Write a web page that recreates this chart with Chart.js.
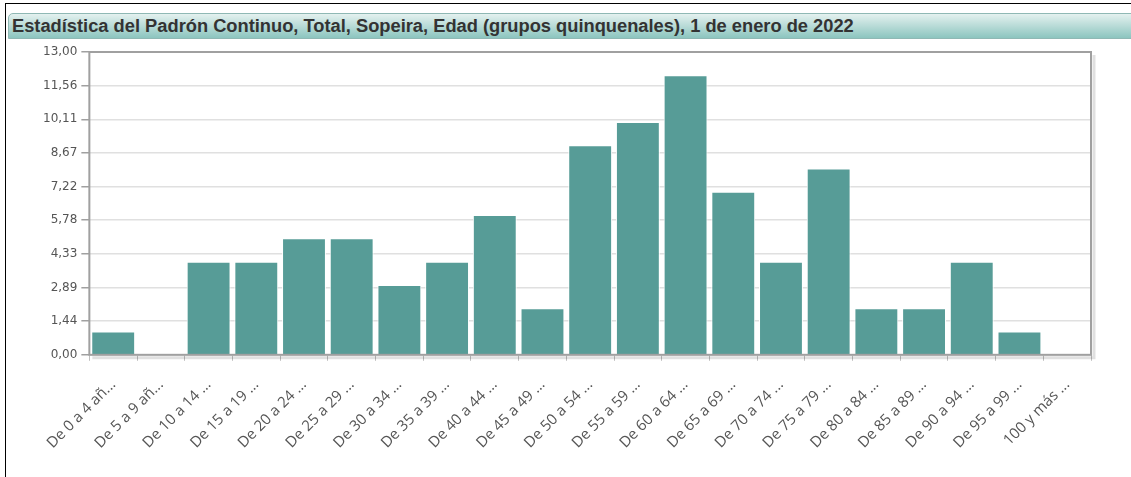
<!DOCTYPE html>
<html lang="es">
<head>
<meta charset="UTF-8">
<title>Padrón Continuo - Sopeira</title>
<script src="https://cdn.jsdelivr.net/npm/chart.js"></script>
<style>
    body { margin: 0; background: #fff; width: 1131px; height: 477px; overflow: hidden; }
    .marco { position: absolute; left: 5px; top: 3px; width: 1130px; height: 480px;
             border-top: 1px solid #000; border-left: 1px solid #000; }
    .titulo { position: absolute; left: 8px; top: 13px; width: 1125px; height: 24px;
              border: 1px solid #8fb8b4; border-radius: 5px 0 0 0;
              background: linear-gradient(#e4f1ef, #8cc5bf);
              font: bold 18.3px "Liberation Sans", Arial, sans-serif; color: #333;
              line-height: 24px; padding-left: 3px; box-sizing: content-box; }
    .grafico { position: absolute; left: 8px; top: 40px; width: 1123px; height: 437px; }
</style>
</head>
<body>
    <div class="marco"></div>
    <div class="titulo">Estadística del Padrón Continuo, Total, Sopeira, Edad (grupos quinquenales), 1 de enero de 2022</div>
    <div class="grafico"><canvas id="grafico"></canvas></div>

<script>
    // grupos de edad (como se ven, recortados)
    var categorias = [
        'De 0 a 4 añ...', 'De 5 a 9 añ...', 'De 10 a 14 ...', 'De 15 a 19 ...',
        'De 20 a 24 ...', 'De 25 a 29 ...', 'De 30 a 34 ...', 'De 35 a 39 ...',
        'De 40 a 44 ...', 'De 45 a 49 ...', 'De 50 a 54 ...', 'De 55 a 59 ...',
        'De 60 a 64 ...', 'De 65 a 69 ...', 'De 70 a 74 ...', 'De 75 a 79 ...',
        'De 80 a 84 ...', 'De 85 a 89 ...', 'De 90 a 94 ...', 'De 95 a 99 ...',
        '100 y más ...'
    ];
    var personas = [1, 0, 4, 4, 5, 5, 3, 4, 6, 2, 9, 10, 12, 7, 4, 8, 2, 2, 4, 1, 0];
    var marcasY = [0, 1.444, 2.889, 4.333, 5.778, 7.222, 8.667, 10.111, 11.556, 13];

    var marcoPlugin = {
        id: 'marco',
        afterDraw: function (chart) {
            var a = chart.chartArea, ctx = chart.ctx;
            ctx.save();
            ctx.strokeStyle = 'rgba(0,0,0,0.12)';
            ctx.lineWidth = 3;
            ctx.beginPath();
            ctx.moveTo(a.right + 3, a.top + 3);
            ctx.lineTo(a.right + 3, a.bottom + 3);
            ctx.lineTo(a.left + 3, a.bottom + 3);
            ctx.stroke();
            ctx.strokeStyle = '#a0a0a0';
            ctx.lineWidth = 2;
            ctx.strokeRect(a.left, a.top, a.right - a.left, a.bottom - a.top);
            ctx.restore();
        }
    };

    new Chart(document.getElementById('grafico'), {
        type: 'bar',
        data: {
            labels: categorias,
            datasets: [{
                data: personas,
                backgroundColor: '#579c97',
                borderColor: '#ffffff',
                borderWidth: 1,
                categoryPercentage: 0.92,
                barPercentage: 1
            }]
        },
        options: {
            responsive: true,
            maintainAspectRatio: false,
            animation: false,
            layout: { padding: { left: 31, right: 40, top: 12, bottom: 10 } },
            plugins: { legend: { display: false }, tooltip: { enabled: false } },
            scales: {
                x: {
                    grid: { display: true, drawOnChartArea: false, offset: true, tickLength: 6, tickColor: '#c0c0c0' },
                    border: { display: false },
                    ticks: {
                        autoSkip: false, maxRotation: 45, minRotation: 45,
                        color: '#555', padding: 15,
                        font: { family: 'Open Sans', size: 15 }
                    }
                },
                y: {
                    min: 0, max: 13,
                    afterBuildTicks: function (scale) {
                        scale.ticks = marcasY.map(function (v) { return { value: v }; });
                    },
                    grid: { color: '#e0e0e0', lineWidth: 1.5, tickLength: 8, tickColor: '#a0a0a0' },
                    border: { display: false },
                    ticks: {
                        color: '#555', padding: 4,
                        font: { family: 'DejaVu Sans', size: 12 },
                        callback: function (v) { return v.toFixed(2).replace('.', ','); }
                    }
                }
            }
        },
        plugins: [marcoPlugin]
    });
</script>
</body>
</html>
